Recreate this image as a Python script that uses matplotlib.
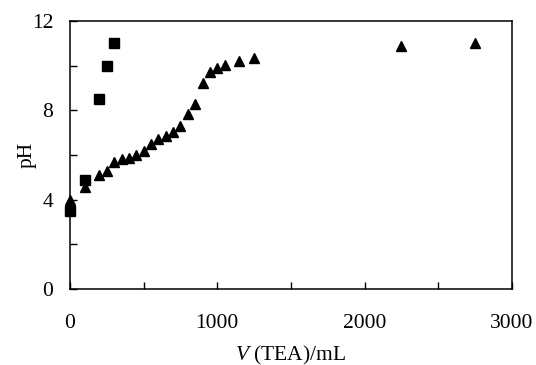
import matplotlib.pyplot as plt
from matplotlib.ticker import MultipleLocator

plt.rcParams['font.family'] = ['Liberation Serif', 'DejaVu Serif']
plt.rcParams['mathtext.fontset'] = 'custom'
plt.rcParams['mathtext.it'] = 'Liberation Serif:italic'
plt.rcParams['mathtext.rm'] = 'Liberation Serif'

# square series
v_sq = [0, 100, 200, 250, 300]
ph_sq = [3.5, 4.87, 8.52, 10.0, 11.0]

# triangle series
v_tri = [0, 100, 200, 250, 300, 350, 400, 450, 500, 550, 600, 650, 700,
         750, 800, 850, 900, 950, 1000, 1050, 1150, 1250, 2250, 2750]
ph_tri = [4.0, 4.58, 5.12, 5.3, 5.7, 5.82, 5.85, 6.0, 6.19, 6.49, 6.73, 6.85,
          7.02, 7.31, 7.82, 8.3, 9.21, 9.73, 9.91, 10.03, 10.22, 10.33, 10.87, 11.03]

fig = plt.figure(figsize=(5.36, 3.65), dpi=100)
ax = fig.add_axes([0.1306, 0.208, 0.8244, 0.734])

ax.plot(v_sq, ph_sq, 's', color='black', markersize=6.5, clip_on=False)
ax.plot(v_tri, ph_tri, '^', color='black', markersize=6.5, clip_on=False)

ax.set_xlim(0, 3000)
ax.set_ylim(0, 12)
ax.xaxis.set_major_locator(MultipleLocator(1000))
ax.xaxis.set_minor_locator(MultipleLocator(500))
ax.yaxis.set_major_locator(MultipleLocator(4))
ax.yaxis.set_minor_locator(MultipleLocator(2))
ax.tick_params(which='both', direction='in', length=5, width=1, labelsize=15.5)
ax.tick_params(axis='x', pad=18)
ax.tick_params(axis='y', pad=12)
for s in ax.spines.values():
    s.set_linewidth(1.1)

ax.set_xlabel(r'$V$ (TEA)/mL', fontsize=15.5)
ax.set_ylabel('pH', fontsize=15.5)
ax.xaxis.set_label_coords(0.5, -0.246, transform=ax.transAxes)
ax.yaxis.set_label_coords(-0.097, 0.5, transform=ax.transAxes)
ax.xaxis.label.set_va('center')
ax.yaxis.label.set_va('center')

fig.savefig('out.png', dpi=100)
